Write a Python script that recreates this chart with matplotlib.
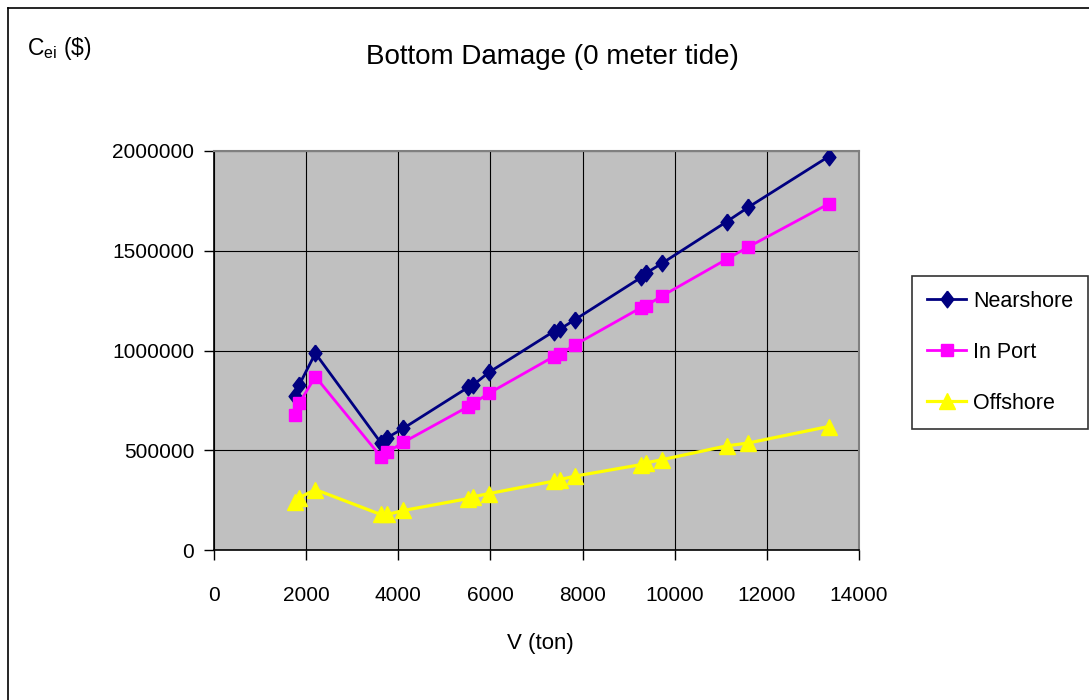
import matplotlib
matplotlib.use("Agg")
import matplotlib.pyplot as plt
from matplotlib.lines import Line2D

plt.rcParams['font.family'] = ['Liberation Sans', 'DejaVu Sans']
plt.rcParams['mathtext.fontset'] = 'custom'
plt.rcParams['mathtext.rm'] = 'Liberation Sans'

# vessel displacement (ton)
tons = [1750, 1850, 2200, 3620, 3760, 4110, 5520, 5630, 5970,
        7370, 7510, 7830, 9270, 9380, 9730, 11130, 11590, 13340]

# expected bottom damage cost ($)
nearshore = [770000, 828000, 986000, 538000, 563000, 610000, 816000, 828000, 891000,
             1095000, 1107000, 1154000, 1366000, 1388000, 1438000, 1646000, 1717000, 1972000]
in_port = [677000, 736000, 869000, 468000, 490000, 540000, 719000, 736000, 786000,
           969000, 981000, 1028000, 1215000, 1225000, 1274000, 1458000, 1518000, 1735000]
offshore = [240000, 262000, 303000, 178000, 178000, 198000, 258000, 267000, 283000,
            345000, 353000, 370000, 428000, 437000, 453000, 522000, 536000, 619000]

xticks = [0, 2000, 4000, 6000, 8000, 10000, 12000, 14000]
yticks = [0, 500000, 1000000, 1500000, 2000000]

# tall diamond like the spreadsheet marker
diamond = [(0, 1), (0.77, 0), (0, -1), (-0.77, 0), (0, 1)]

W, H = 1089, 700
fig = plt.figure(figsize=(W / 100, H / 100), dpi=100)
ax = fig.add_axes([214 / W, 1 - 550 / H, (859 - 214) / W, (550 - 151) / H])
ax.set_facecolor('#C0C0C0')

ax.plot(tons, nearshore, color='#000080', lw=2, marker=diamond, ms=12,
        label='Nearshore', zorder=3)
ax.plot(tons, in_port, color='#FF00FF', lw=2, marker='s', ms=8.5,
        label='In Port', zorder=3)
ax.plot(tons, offshore, color='#FFFF00', lw=2.3, marker='^', ms=11,
        label='Offshore', zorder=3)

ax.set_xlim(0, 14000)
ax.set_ylim(0, 2000000)
ax.set_xticks(xticks)
ax.set_yticks(yticks)
ax.set_xticklabels([str(v) for v in xticks])
ax.set_yticklabels([str(v) for v in yticks])
ax.grid(True, color='black', lw=0.8, zorder=1)
ax.set_axisbelow(True)
ax.tick_params(axis='both', direction='out', length=7.2, width=1, labelsize=15)
ax.tick_params(axis='x', pad=19)
ax.tick_params(axis='y', pad=7)

for side in ('left', 'bottom'):
    ax.spines[side].set_color('black')
    ax.spines[side].set_linewidth(1.2)
for side in ('top', 'right'):
    ax.spines[side].set_color('#808080')
    ax.spines[side].set_linewidth(1.5)

fig.text(552 / W, 1 - 64 / H, 'Bottom Damage (0 meter tide)', fontsize=20,
         ha='center', va='baseline')
fig.text(540 / W, 1 - 649 / H, 'V (ton)', fontsize=16, ha='center', va='baseline')
fig.text(27 / W, 1 - 55 / H, r'C$_{\mathregular{ei}}$ (\$)', fontsize=16.5,
         ha='left', va='baseline')

leg = ax.legend(loc='upper left', bbox_to_anchor=(912 / W, 1 - 276 / H),
                bbox_transform=fig.transFigure, fontsize=15.5, frameon=True,
                fancybox=False, edgecolor='black', borderaxespad=0,
                handlelength=1.85, handletextpad=0.3, labelspacing=1.4,
                borderpad=0.68)
leg.get_frame().set_linewidth(1.2)

# outer chart border (left and top edges)
fig.add_artist(Line2D([7.5 / W, 7.5 / W], [0, 1 - 8 / H], color='black', lw=1.2))
fig.add_artist(Line2D([7.5 / W, 1], [1 - 8 / H, 1 - 8 / H], color='black', lw=1.2))

fig.savefig('out.png', dpi=100)
